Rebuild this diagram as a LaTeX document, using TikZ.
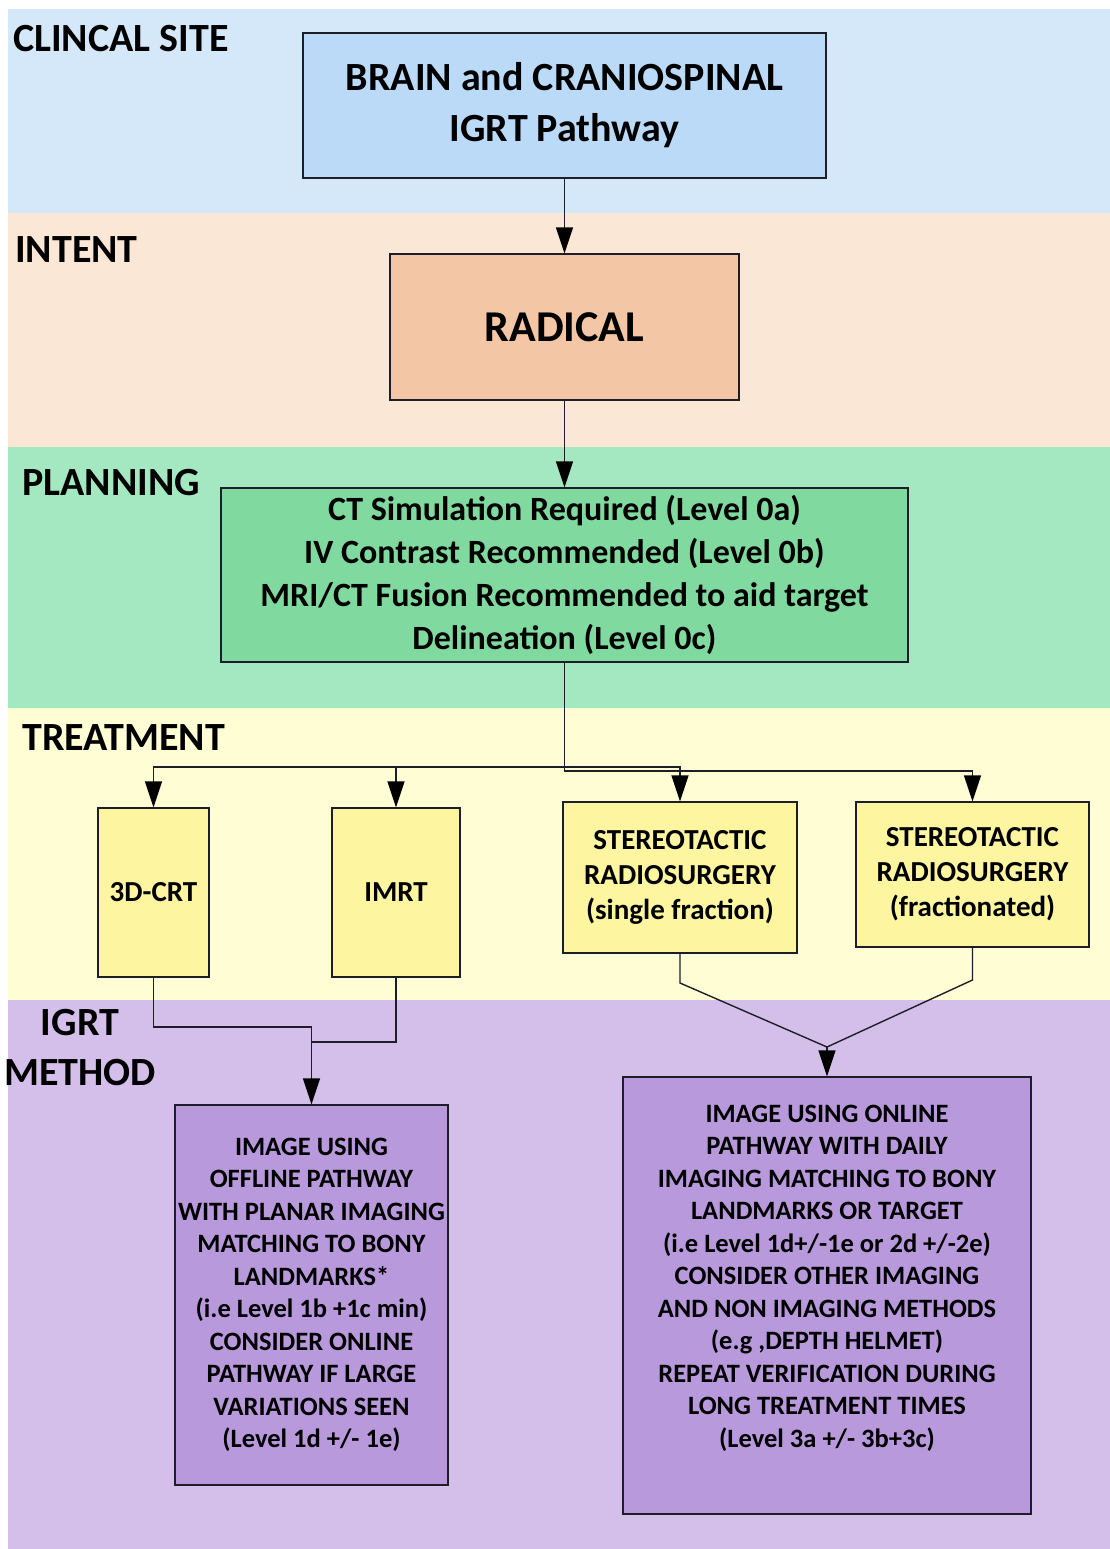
\documentclass[tikz,border=0pt]{standalone}
\usepackage{fontspec}
\setmainfont{Carlito}
\usetikzlibrary{arrows.meta}
\definecolor{bandA}{HTML}{D5E8FA}
\definecolor{boxA}{HTML}{BADAF8}
\definecolor{bandB}{HTML}{FBE7D6}
\definecolor{boxB}{HTML}{F3C6A5}
\definecolor{bandC}{HTML}{A4E8C2}
\definecolor{boxC}{HTML}{80DAA0}
\definecolor{bandD}{HTML}{FFFDD3}
\definecolor{boxD}{HTML}{FDF5A0}
\definecolor{bandE}{HTML}{D4BFEA}
\definecolor{boxE}{HTML}{B89ADC}
\definecolor{linec}{HTML}{1E1E28}
\begin{document}
\begin{tikzpicture}[x=1pt,y=-1pt,
  box/.style={draw=linec, line width=1.3pt, align=center, inner sep=0pt, text=black},
  lab/.style={inner sep=0pt, font=\bfseries\fontsize{40}{50}\selectfont, text=black},
  conn/.style={draw=linec, line width=1.4pt},
  arr/.style={conn, -{Triangle[length=26pt,width=17pt,fill=black,color=black]}},
  tfont/.style={font=\bfseries\fontsize{29}{35}\selectfont},
  pfont/.style={font=\bfseries\fontsize{26.5}{32.5}\selectfont}
]
\useasboundingbox (0,0) rectangle (1110,1549);
\fill[white] (0,0) rectangle (1110,1549);
% bands
\fill[bandA] (8,9) rectangle (1110,213);
\fill[bandB] (8,213) rectangle (1110,447);
\fill[bandC] (8,447) rectangle (1110,708);
\fill[bandD] (8,708) rectangle (1110,1000);
\fill[bandE] (8,1000) rectangle (1110,1549);
% band labels
\node[lab, anchor=base west] (lclin) at (13,52) {CLINCAL SITE};
\node[lab, anchor=base west] (lint) at (15,262) {INTENT};
\node[lab, anchor=base west] (lplan) at (22,495) {PLANNING};
\node[lab, anchor=base west] (ltreat) at (22,750) {TREATMENT};
\node[lab, align=center] (ligrt) at (80,1048) {IGRT\\METHOD};
% boxes
\node[box, fill=boxA, minimum width=523, minimum height=145,
      font=\bfseries\fontsize{40}{51}\selectfont] (brain) at (564.5,105.5)
      {BRAIN and CRANIOSPINAL\\IGRT Pathway};
\node[box, fill=boxB, minimum width=349, minimum height=146,
      font=\bfseries\fontsize{44}{50}\selectfont] (radical) at (564.5,327) {RADICAL};
\node[box, fill=boxC, minimum width=687, minimum height=174,
      font=\bfseries\fontsize{34}{43}\selectfont] (plan) at (564.5,575)
      {CT Simulation Required (Level 0a)\\IV Contrast Recommended (Level 0b)\\MRI/CT Fusion Recommended to aid target\\Delineation (Level 0c)};
\node[box, fill=boxD, minimum width=111, minimum height=169, tfont] (crt) at (153.5,892.5) {3D-CRT};
\node[box, fill=boxD, minimum width=128, minimum height=169, tfont] (imrt) at (396,892.5) {IMRT};
\node[box, fill=boxD, minimum width=234, minimum height=151, tfont] (srss) at (680,877.5)
      {STEREOTACTIC\\RADIOSURGERY\\(single fraction)};
\node[box, fill=boxD, minimum width=233, minimum height=145, tfont] (srsf) at (972.5,874.5)
      {STEREOTACTIC\\RADIOSURGERY\\(fractionated)};
\node[box, fill=boxE, minimum width=273, minimum height=380, pfont] (lbox) at (311.5,1295)
      {IMAGE USING\\OFFLINE PATHWAY\\WITH PLANAR IMAGING\\MATCHING TO BONY\\LANDMARKS*\\(i.e Level 1b +1c min)\\CONSIDER ONLINE\\PATHWAY IF LARGE\\VARIATIONS SEEN\\(Level 1d +/- 1e)};
\node[box, fill=boxE, minimum width=408, minimum height=437] (rbox) at (827,1295.5) {};
\node[pfont, align=center, inner sep=0pt] (rtext) at (827,1278)
      {IMAGE USING ONLINE\\PATHWAY WITH DAILY\\IMAGING MATCHING TO BONY\\LANDMARKS OR TARGET\\(i.e Level 1d+/-1e or 2d +/-2e)\\CONSIDER OTHER IMAGING\\AND NON IMAGING METHODS\\(e.g ,DEPTH HELMET)\\REPEAT VERIFICATION DURING\\LONG TREATMENT TIMES\\(Level 3a +/- 3b+3c)};
% connectors
\draw[arr] (brain) -- (radical);
\draw[arr] (radical) -- (plan);
\coordinate (j1) at (564.5,767);
\coordinate (j2) at (564.5,771);
\draw[arr] (plan.south) -- (j2) -| (srsf.north);
\draw[arr] (j1) -| (crt.north);
\draw[arr] (j1) -| (srss.north);
\draw[arr] (imrt.north |- j1) -- (imrt.north);
\coordinate (jl1) at (311.5,1027);
\coordinate (jl2) at (311.5,1042);
\draw[conn] (crt.south) |- (jl1);
\draw[conn] (imrt.south) |- (jl2);
\draw[arr] (jl1) -- (lbox.north);
\coordinate (jr) at (827,1047);
\coordinate (bs) at (680,983);
\coordinate (bf) at (972.5,980);
\draw[conn] (srss.south) -- (bs) -- (jr);
\draw[conn] (srsf.south) -- (bf) -- (jr);
\draw[arr] (jr) -- (rbox.north);
\end{tikzpicture}
\end{document}
